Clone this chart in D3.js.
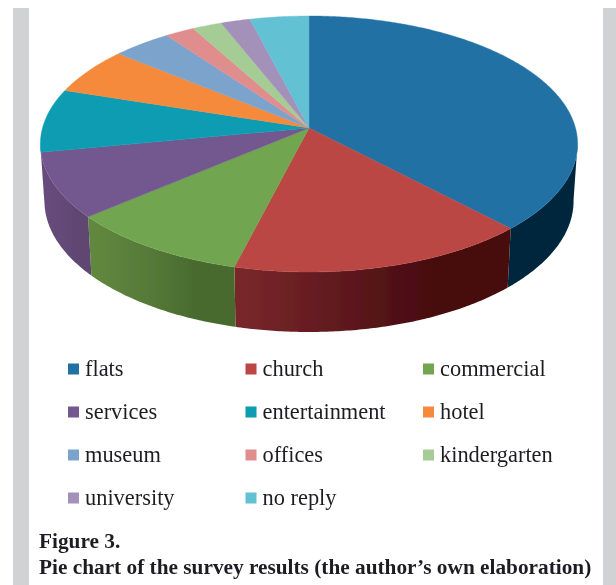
<!DOCTYPE html>
<html><head><meta charset="utf-8">
<script src="https://cdn.jsdelivr.net/npm/d3@7"></script>
<style>html,body{margin:0;padding:0;background:#fff}svg{display:block}text{font-family:"Liberation Serif",serif;fill:#1f1f23}</style>
</head><body><div id="c"></div>
<script>
const categories=["flats","church","commercial","services","entertainment","hotel","museum","offices","kindergarten","university","no reply"];
const values=[37.9,16.03,9.82,8.2,8,6,4,2,2,2,4];
const colors=["#2271a5","#bb4744","#71a54f","#735890","#089cb2","#f58a3c","#7ba3cb","#e08e8d","#a5cc94","#a491ba","#63c1d4"];
const wallLeft=["#03263d","#7a282b","#62893f","#674c7c","#03424f","#000","#000","#000","#000","#000","#000"];
const wallMid=["#03263d","#5c181c","#557a38","#654a78","#03424f","#000","#000","#000","#000","#000","#000"];
const wallRight=["#03263d","#470a0f","#496b2e","#5f4672","#03424f","#000","#000","#000","#000","#000","#000"];
const captionLines=["Figure 3.","Pie chart of the survey results (the author\u2019s own elaboration)"];

const W=616,H=585;
const svg=d3.select("#c").append("svg").attr("width",W).attr("height",H);
const defs=svg.append("defs");
const blur=defs.append("filter").attr("id","soft");
blur.append("feGaussianBlur").attr("stdDeviation",0.5);

// page strips
svg.append("rect").attr("x",13).attr("y",8).attr("width",16).attr("height",H-8).attr("fill","#d1d2d4");
svg.append("rect").attr("x",603).attr("y",8).attr("width",13).attr("height",H-8).attr("fill","#d1d2d4");

// perspective projection of the unit pie disc
const cx=309,cy=128,A=266.5,B=110,k=0.125;
const project=(ang,r=1)=>{const u=r*Math.sin(ang),v=-r*Math.cos(ang),w=1-k*v;
  return [cx+A*u/w,(cy+B*v)/w];};
const projectBottom=ang=>{const [x,y]=project(ang),v=-Math.cos(ang);
  return [cx+(x-cx)*0.985,y+56.5+3.5*v];};
const line=d3.line();
const arcs=d3.pie().sort(null).value(d=>d)(values);
const step=0.01;
const sample=(a0,a1)=>d3.range(a0,a1,step).concat([a1]);
const visA=96.7*Math.PI/180,visB=263.3*Math.PI/180;

const chart=svg.append("g").attr("filter","url(#soft)");
// side walls
arcs.forEach((d,i)=>{
  const a0=Math.max(d.startAngle,visA),a1=Math.min(d.endAngle,visB);
  if(a1<=a0)return;
  const angs=sample(a0,a1);
  const top=angs.map(a=>project(a)),bot=angs.map(a=>projectBottom(a)).reverse();
  const pts=top.concat(bot);
  const xs=d3.extent(pts,p=>p[0]);
  const id="w"+i;
  const g=defs.append("linearGradient").attr("id",id).attr("gradientUnits","userSpaceOnUse")
    .attr("x1",xs[0]).attr("x2",xs[1]).attr("y1",0).attr("y2",0);
  g.append("stop").attr("offset",0).attr("stop-color",wallLeft[i]);
  g.append("stop").attr("offset",0.42).attr("stop-color",wallMid[i]);
  g.append("stop").attr("offset",0.72).attr("stop-color",wallRight[i]);
  chart.append("path").attr("d",line(pts)+"Z").attr("fill",`url(#${id})`);
});
// top faces
arcs.forEach((d,i)=>{
  const pts=[[cx,cy]].concat(sample(d.startAngle,d.endAngle).map(a=>project(a)));
  chart.append("path").attr("d",line(pts)+"Z").attr("fill",colors[i]).attr("stroke",colors[i]).attr("stroke-width",0.4);
});

// legend
const legendCols=d3.scalePoint().domain([0,1,2]).range([68,423]);
const legendRows=d3.scalePoint().domain([0,1,2,3]).range([369,498]);
const legend=svg.append("g").attr("filter","url(#soft)");
categories.forEach((c,i)=>{
  const x=legendCols(i%3),y=legendRows(Math.floor(i/3));
  legend.append("rect").attr("x",x).attr("y",y-5.5).attr("width",11).attr("height",11).attr("fill",colors[i]);
  legend.append("text").attr("x",x+17).attr("y",y+7).attr("font-size",22.4).text(c);
});
// caption
const cap=svg.append("g").attr("filter","url(#soft)");
captionLines.forEach((t,i)=>{
  cap.append("text").attr("x",39).attr("y",548+i*26).attr("font-size",21.3).attr("font-weight","bold").text(t);
});
</script></body></html>
